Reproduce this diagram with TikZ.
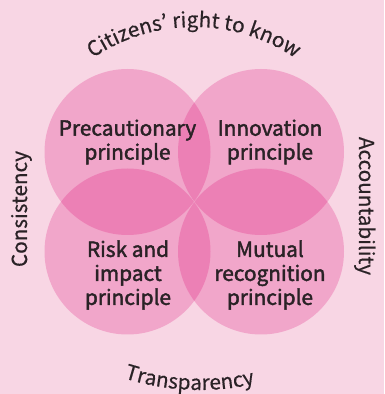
\documentclass[tikz,border=0pt]{standalone}
\usepackage{fontspec}
\setmainfont{Noto Sans CJK KR}[FakeBold=0.5]
\newfontfamily\labelfont{Noto Sans CJK KR}[FakeBold=2]
\usetikzlibrary{decorations.text}
\definecolor{bgpink}{HTML}{F8D6E4}
\definecolor{petal}{HTML}{DD0070}
\definecolor{ink}{HTML}{2A2226}

\begin{document}
\begin{tikzpicture}[x=1pt,y=1pt,
  circ/.style={fill=petal,fill opacity=0.224},
  lbl/.style={align=center,text=ink,font=\labelfont\fontsize{20.8}{24}\selectfont},
  side/.style={text=ink,font=\fontsize{20.7}{20}\selectfont}]
\fill[bgpink] (0,0) rectangle (384,394);
\useasboundingbox (0,0) rectangle (384,394);
% the four principles
\fill[circ] (127.5,242) circle[radius=83];
\fill[circ] (261,242) circle[radius=83];
\fill[circ] (127.5,142.5) circle[radius=83];
\fill[circ] (261,142.5) circle[radius=83];
\node[lbl](1) at (127.5,252) {Precautionary\\principle};
\node[lbl](2) at (270,252) {Innovation\\principle};
\node[lbl](3) at (128,119) {Risk and\\impact\\principle};
\node[lbl](4) at (270,119) {Mutual\\recognition\\principle};
% values round the outside
\node[side,rotate=90,anchor=base](5) at (27,185) {Consistency};
\node[side,rotate=-90,anchor=base](6) at (359,188) {Accountability};
\path[decorate,decoration={text along path,text align=center,text color=ink,
  text={|\fontsize{20.7}{20}\selectfont|Citizens’ right to know}}]
  (194,187) ++(150:180) arc[start angle=150,end angle=30,radius=180];
\path[decorate,decoration={text along path,text align=center,text color=ink,
  text={|\fontsize{20.7}{20}\selectfont|Transparency}}]
  (200,254) ++(245:250) arc[start angle=245,end angle=290,radius=250];
\end{tikzpicture}
\end{document}
